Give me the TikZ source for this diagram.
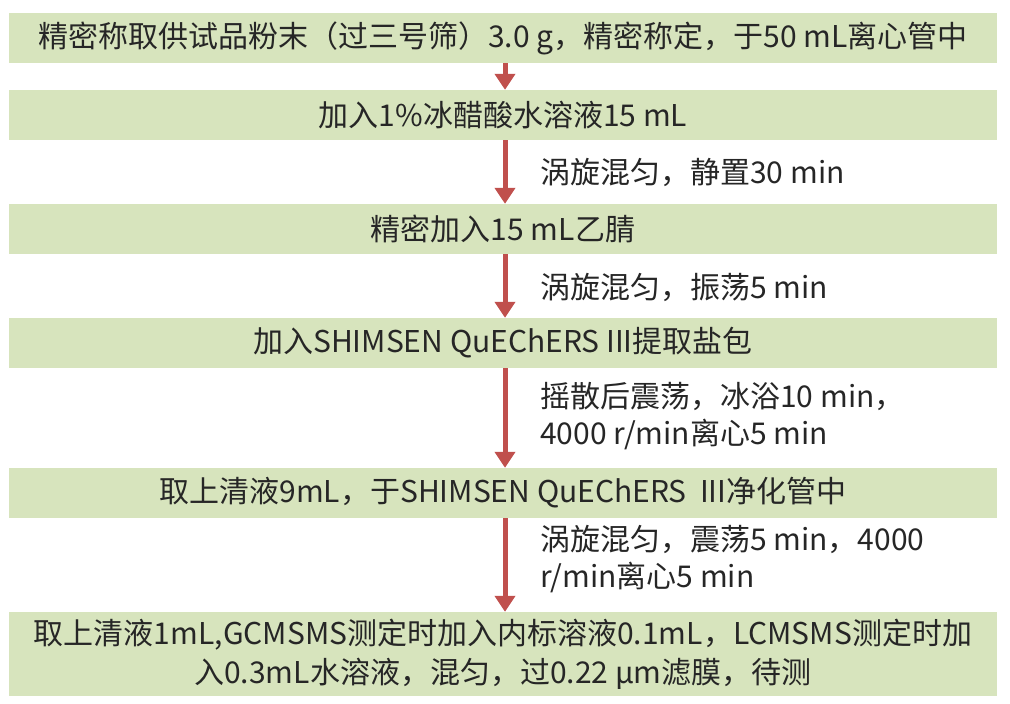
\documentclass[tikz,border=0pt]{standalone}
\usepackage{fontspec}
\setmainfont{Noto Sans CJK SC}
\usetikzlibrary{arrows.meta}
\definecolor{boxgreen}{HTML}{D7E4BD}
\definecolor{arrowred}{HTML}{C0504D}
\definecolor{txt}{HTML}{262626}
\begin{document}
\begin{tikzpicture}[x=1pt,y=-1pt,
  stepbox/.style={fill=boxgreen,draw=none,minimum width=988pt,inner sep=0pt,text=txt,
    font=\fontsize{30}{39}\selectfont,align=center},
  sidelabel/.style={anchor=west,inner sep=0pt,text=txt,font=\fontsize{30}{37}\selectfont,align=left},
  flow/.style={draw=arrowred,line width=5pt,-{Triangle[length=16pt,width=20pt]}}]
\useasboundingbox (0,0) rectangle (1010,704);
\node[stepbox,minimum height=50pt] (b1) at (503,38) {精密称取供试品粉末（过三号筛）3.0 g，精密称定，于50 mL离心管中};
\node[stepbox,minimum height=50pt] (b2) at (503,115) {加入1\%冰醋酸水溶液15 mL};
\node[stepbox,minimum height=50pt] (b3) at (503,229) {精密加入15 mL乙腈};
\node[stepbox,minimum height=50pt] (b4) at (503,343) {加入SHIMSEN QuEChERS III提取盐包};
\node[stepbox,minimum height=50pt] (b5) at (503,493) {取上清液9mL，于SHIMSEN QuEChERS\ \ III净化管中};
\node[stepbox,minimum height=84pt] (b6) at (503,654) {取上清液1mL,GCMSMS测定时加入内标溶液0.1mL，LCMSMS测定时加\\入0.3mL水溶液，混匀，过0.22 µm滤膜，待测};
\draw[flow] (b1.south -| 505,0) -- (b2.north -| 505,0);
\draw[flow] (b2.south -| 505,0) -- (b3.north -| 505,0);
\draw[flow] (b3.south -| 505,0) -- (b4.north -| 505,0);
\draw[flow] (b4.south -| 505,0) -- (b5.north -| 505,0);
\draw[flow] (b5.south -| 505,0) -- (b6.north -| 505,0);
\node[sidelabel] (l2) at (540,172) {涡旋混匀，静置30 min};
\node[sidelabel] (l3) at (540,287) {涡旋混匀，振荡5 min};
\node[sidelabel] (l4) at (540,416) {摇散后震荡，冰浴10 min，\\4000 r/min离心5 min};
\node[sidelabel] (l5) at (540,559) {涡旋混匀，震荡5 min，4000\\r/min离心5 min};
\end{tikzpicture}
\end{document}
